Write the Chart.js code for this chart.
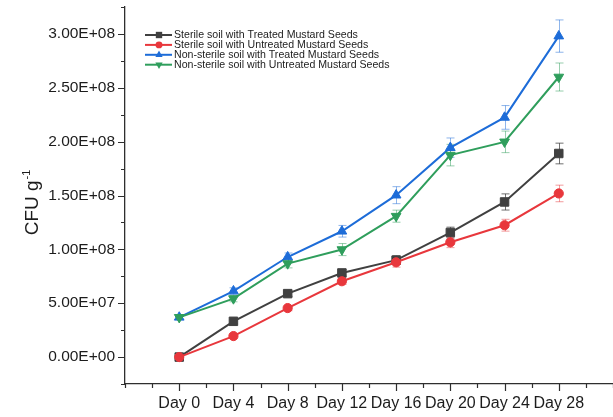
<!DOCTYPE html>
<html>
<head>
<meta charset="utf-8">
<title>CFU g-1 over time</title>
<script src="https://cdn.jsdelivr.net/npm/chart.js@4.4.1/dist/chart.umd.min.js"></script>
<style>
  html, body { margin: 0; padding: 0; background: #ffffff; }
  canvas { display: block; }
</style>
</head>
<body>
<canvas id="chart" width="613" height="417"></canvas>
<script>
// Sampling days (x tick labels)
const categories = ['Day 0', 'Day 4', 'Day 8', 'Day 12', 'Day 16', 'Day 20', 'Day 24', 'Day 28'];

// Series names
const seriesNames = [
  'Sterile soil with Treated Mustard Seeds',
  'Sterile soil with Untreated Mustard Seeds',
  'Non-sterile soil with Treated Mustard Seeds',
  'Non-sterile soil with Untreated Mustard Seeds'
];

// Mean CFU per gram and error (± one bar half-length)
const sterileTreated        = [0, 3.32e7, 5.89e7, 7.81e7, 9.00e7, 1.156e8, 1.44e8, 1.89e8];
const sterileTreatedErr     = [1.0e6, 2.0e6, 2.5e6, 3.0e6, 4.0e6, 5.0e6, 7.5e6, 9.6e6];
const sterileUntreated      = [0, 1.95e7, 4.55e7, 7.04e7, 8.80e7, 1.066e8, 1.224e8, 1.519e8];
const sterileUntreatedErr   = [1.0e6, 2.0e6, 2.5e6, 3.0e6, 4.5e6, 5.0e6, 5.5e6, 7.7e6];
const nonSterileTreated     = [3.69e7, 6.13e7, 9.29e7, 1.168e8, 1.503e8, 1.944e8, 2.225e8, 2.98e8];
const nonSterileTreatedErr  = [2.0e6, 3.0e6, 3.7e6, 5.4e6, 7.9e6, 9.0e6, 1.1e7, 1.5e7];
const nonSterileUntreated   = [3.69e7, 5.43e7, 8.68e7, 9.98e7, 1.308e8, 1.875e8, 1.998e8, 2.60e8];
const nonSterileUntreatedErr= [2.0e6, 3.0e6, 4.0e6, 5.6e6, 5.6e6, 1.0e7, 1.0e7, 1.3e7];

// Axis range
const yMin = -2.5e7, yMax = 3.25e8, yMinorStep = 2.5e7, yMajorStep = 5e7;

const seriesColors = ['#404040', '#e8373c', '#1d6cd8', '#2f9e5c'];
const errorColors  = ['rgba(64,64,64,0.75)', 'rgba(232,55,60,0.5)', 'rgba(29,108,216,0.5)', 'rgba(47,158,92,0.5)'];
const seriesStyles = ['rect', 'circle', 'triangle', 'triangle'];
const seriesRotation = [0, 0, 0, 180];
const seriesRadius = [6, 4.6, 5.6, 5.6];

const seriesValues = [sterileTreated, sterileUntreated, nonSterileTreated, nonSterileUntreated];
const seriesErrors = [sterileTreatedErr, sterileUntreatedErr, nonSterileTreatedErr, nonSterileUntreatedErr];

const AXIS_COLOR = '#2e2e2e';
const TEXT_COLOR = '#1c1c1c';
const FONT = '"Liberation Sans", Arial, Helvetica, sans-serif';

function sciLabel(v) {
  return v.toExponential(2).toUpperCase().replace(/E([+-])(\d)$/, 'E$10$2');
}
function isMultiple(v, step) {
  const r = v / step;
  return Math.abs(r - Math.round(r)) < 1e-6;
}

const datasets = seriesValues.map((vals, i) => ({
  label: seriesNames[i],
  data: vals.map((v, j) => ({ x: j, y: v })),
  errors: seriesErrors[i],
  borderColor: seriesColors[i],
  backgroundColor: seriesColors[i],
  pointBackgroundColor: seriesColors[i],
  pointBorderColor: seriesColors[i],
  pointBorderWidth: 1,
  pointStyle: seriesStyles[i],
  rotation: seriesRotation[i],
  pointRadius: seriesRadius[i],
  borderWidth: 2,
  tension: 0,
  order: 3 - i
}));

// Error bars, drawn beneath the lines and markers
const errorBars = {
  id: 'errorBars',
  beforeDatasetsDraw(chart) {
    const { ctx, scales: { y } } = chart;
    ctx.save();
    ctx.lineWidth = 1;
    chart.data.datasets.forEach((ds, i) => {
      const meta = chart.getDatasetMeta(i);
      ctx.strokeStyle = errorColors[i];
      ds.errors.forEach((e, j) => {
        const pt = meta.data[j];
        const v = ds.data[j].y;
        const top = y.getPixelForValue(v + e);
        const bot = y.getPixelForValue(v - e);
        const x = Math.round(pt.x) + 0.5;
        ctx.beginPath();
        ctx.moveTo(x, top); ctx.lineTo(x, bot);
        ctx.moveTo(x - 4, top); ctx.lineTo(x + 4, top);
        ctx.moveTo(x - 4, bot); ctx.lineTo(x + 4, bot);
        ctx.stroke();
      });
    });
    ctx.restore();
  }
};

// Outward tick marks, longer at labelled positions
const tickMarks = {
  id: 'tickMarks',
  afterDraw(chart) {
    const { ctx, chartArea: a, scales: { x, y } } = chart;
    ctx.save();
    ctx.strokeStyle = AXIS_COLOR;
    ctx.lineWidth = 1.2;
    ctx.beginPath();
    x.ticks.forEach(t => {
      const major = Number.isInteger(t.value) && t.value >= 0 && t.value < categories.length;
      const px = Math.round(x.getPixelForValue(t.value)) + 0.5;
      ctx.moveTo(px, a.bottom);
      ctx.lineTo(px, a.bottom + (major ? 7 : 4));
    });
    y.ticks.forEach(t => {
      const major = t.value >= 0 && isMultiple(t.value, yMajorStep);
      const py = Math.round(y.getPixelForValue(t.value)) + 0.5;
      ctx.moveTo(a.left, py);
      ctx.lineTo(a.left - (major ? 7 : 4), py);
    });
    ctx.stroke();
    ctx.restore();
  }
};

// Y axis title with superscript exponent
const yTitle = {
  id: 'yTitle',
  afterDraw(chart) {
    const { ctx, chartArea: a } = chart;
    const main = 'CFU g', sup = '-1';
    ctx.save();
    ctx.fillStyle = TEXT_COLOR;
    const mainFont = '19px ' + FONT, supFont = '11px ' + FONT;
    ctx.font = mainFont; const w1 = ctx.measureText(main).width;
    ctx.font = supFont;  const w2 = ctx.measureText(sup).width + 1;
    const cy = (a.top + a.bottom) / 2 + 7;
    ctx.translate(38, cy + (w1 + w2) / 2);
    ctx.rotate(-Math.PI / 2);
    ctx.textBaseline = 'alphabetic';
    ctx.textAlign = 'left';
    ctx.font = mainFont;
    ctx.fillText(main, 0, 0);
    ctx.font = supFont;
    ctx.fillText(sup, w1 + 1, -8);
    ctx.restore();
  }
};

function drawMarker(ctx, style, rot, x, y, r) {
  ctx.beginPath();
  if (style === 'rect') {
    const s = r * Math.SQRT1_2;
    ctx.rect(x - s, y - s, 2 * s, 2 * s);
  } else if (style === 'circle') {
    ctx.arc(x, y, r, 0, Math.PI * 2);
  } else {
    const dir = rot === 180 ? 1 : -1;
    const h = r * 1.5;
    ctx.moveTo(x, y + dir * r);
    ctx.lineTo(x - r * Math.sqrt(3) / 2, y - dir * h / 3);
    ctx.lineTo(x + r * Math.sqrt(3) / 2, y - dir * h / 3);
    ctx.closePath();
  }
  ctx.fill();
}

// Legend inside the plot, upper left
const insideLegend = {
  id: 'insideLegend',
  afterDraw(chart) {
    const { ctx, chartArea: a } = chart;
    const x0 = a.left + 20, y0 = a.top + 28, rowH = 9.9;
    ctx.save();
    ctx.font = '10.6px ' + FONT;
    ctx.textBaseline = 'middle';
    ctx.textAlign = 'left';
    seriesNames.forEach((name, i) => {
      const yy = y0 + i * rowH;
      ctx.strokeStyle = seriesColors[i];
      ctx.fillStyle = seriesColors[i];
      ctx.lineWidth = 2;
      ctx.beginPath();
      ctx.moveTo(x0, yy); ctx.lineTo(x0 + 27, yy);
      ctx.stroke();
      drawMarker(ctx, seriesStyles[i], seriesRotation[i], x0 + 14, yy, seriesRadius[i] * 0.75);
      ctx.fillStyle = TEXT_COLOR;
      ctx.fillText(name, x0 + 29, yy + 0.5);
    });
    ctx.restore();
  }
};

// Fixed axis band sizes, with no extra end padding for edge labels
function fixBand(prop, size) {
  return scale => {
    scale[prop] = size;
    scale.paddingLeft = 0; scale.paddingRight = 0;
    scale.paddingTop = 0; scale.paddingBottom = 0;
  };
}

new Chart(document.getElementById('chart'), {
  type: 'line',
  data: { datasets },
  options: {
    responsive: false,
    animation: false,
    devicePixelRatio: 1,
    layout: { autoPadding: false, padding: { top: 7, right: 0, left: 0, bottom: 0 } },
    plugins: { legend: { display: false }, tooltip: { enabled: false } },
    scales: {
      x: {
        type: 'linear',
        min: -1,
        max: categories.length,
        afterFit: fixBand('height', 33),
        grid: { display: false, drawTicks: false },
        border: { display: true, color: AXIS_COLOR, width: 1.3 },
        ticks: {
          stepSize: 0.5,
          autoSkip: false,
          maxRotation: 0,
          padding: 10,
          color: TEXT_COLOR,
          font: { family: FONT, size: 16 },
          callback: v => (Number.isInteger(v) && v >= 0 && v < categories.length) ? categories[v] : ''
        }
      },
      y: {
        type: 'linear',
        min: yMin,
        max: yMax,
        afterFit: fixBand('width', 125),
        grid: { display: false, drawTicks: false },
        border: { display: true, color: AXIS_COLOR, width: 1.3 },
        ticks: {
          stepSize: yMinorStep,
          autoSkip: false,
          padding: 10,
          color: TEXT_COLOR,
          font: { family: FONT, size: 15.5 },
          callback: v => (v >= 0 && isMultiple(v, yMajorStep)) ? sciLabel(v) : ''
        }
      }
    }
  },
  plugins: [errorBars, tickMarks, yTitle, insideLegend]
});
</script>
</body>
</html>
